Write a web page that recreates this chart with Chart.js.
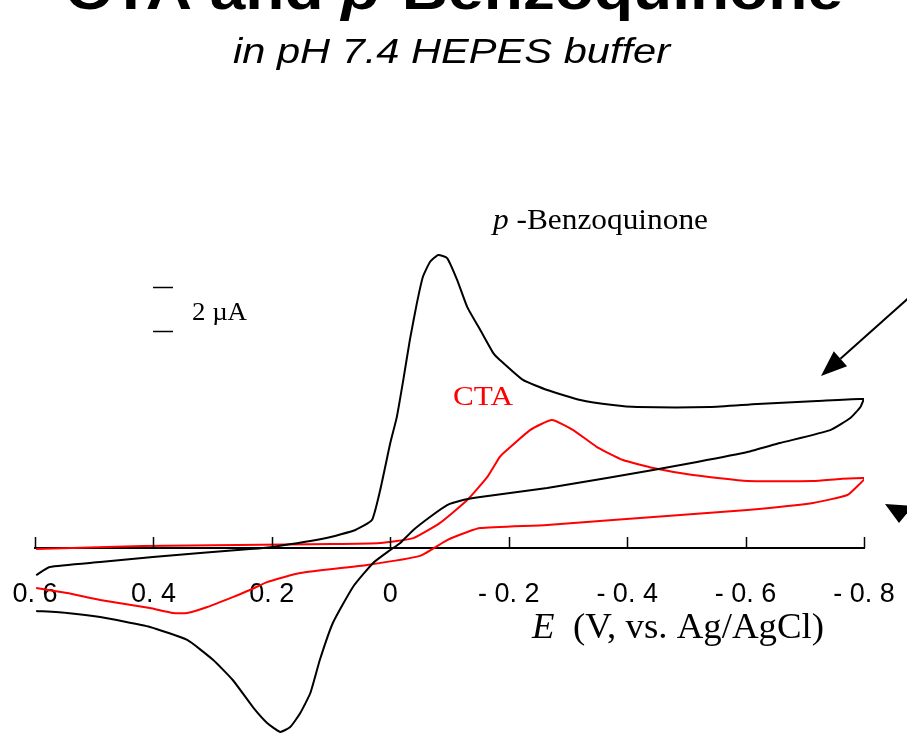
<!DOCTYPE html>
<html>
<head>
<meta charset="utf-8">
<script src="https://cdn.jsdelivr.net/npm/chart.js@4.4.1/dist/chart.umd.min.js"></script>
<style>
  html, body { margin: 0; padding: 0; background: #fff; overflow: hidden; }
  #wrap { position: absolute; left: 0; top: 0; width: 907px; height: 740px; }
</style>
</head>
<body>
<div id="wrap"><canvas id="cv"></canvas></div>
<script>
// potential (V vs Ag/AgCl) and current (uA, cathodic up)
const pbqPotential = [0.598, 0.575, 0.490, 0.401, 0.321, 0.237, 0.198, 0.108, 0.059, 0.031,
  0.017, 0.000, -0.011, -0.022, -0.033, -0.045, -0.055, -0.067, -0.081, -0.096,
  -0.113, -0.130, -0.152, -0.174, -0.185, -0.224, -0.265, -0.321, -0.376, -0.417,
  -0.540, -0.620, -0.721, -0.799,
  -0.794, -0.777, -0.743, -0.658, -0.603, -0.518, -0.444, -0.366, -0.265, -0.152,
  -0.123, -0.096, -0.067, -0.039, -0.017, 0.000, 0.029, 0.063, 0.097, 0.119,
  0.135, 0.152, 0.169, 0.186, 0.208, 0.232, 0.266, 0.299, 0.343, 0.406,
  0.490, 0.546, 0.598];
const pbqCurrent = [-1.23, -0.86, -0.64, -0.41, -0.23, -0.05, 0.05, 0.45, 0.82, 1.27,
  2.64, 4.77, 5.95, 7.64, 9.45, 11.14, 12.32, 13.0, 13.32, 13.18,
  12.18, 10.95, 9.91, 8.86, 8.55, 7.64, 7.18, 6.73, 6.5, 6.41,
  6.41, 6.55, 6.68, 6.77,
  6.41, 5.91, 5.36, 4.77, 4.36, 3.91, 3.55, 3.18, 2.73, 2.32,
  2.18, 1.95, 1.41, 0.82, 0.23, -0.09, -0.68, -1.77, -3.41, -5.09,
  -6.59, -7.5, -8.14, -8.36, -7.95, -7.23, -6.0, -5.09, -4.18, -3.59,
  -3.14, -2.95, -2.86];

const ctaPotential = [0.598, 0.418, 0.097, 0.017, -0.039, -0.084, -0.130, -0.164, -0.185, -0.197,
  -0.236, -0.273, -0.309, -0.349, -0.393, -0.444, -0.511, -0.603, -0.714, -0.760, -0.802,
  -0.794, -0.772, -0.714, -0.603, -0.490, -0.376, -0.265, -0.152, -0.130, -0.096,
  -0.050, 0.039, 0.152, 0.208, 0.237, 0.266, 0.309, 0.343, 0.367, 0.406,
  0.490, 0.546, 0.598];
const ctaCurrent = [-0.05, 0.09, 0.18, 0.23, 0.45, 1.14, 2.18, 3.23, 4.14, 4.45,
  5.36, 5.82, 5.36, 4.59, 4.0, 3.64, 3.32, 3.05, 3.05, 3.14, 3.18,
  2.95, 2.41, 2.05, 1.73, 1.5, 1.27, 1.05, 0.91, 0.73, 0.36,
  -0.36, -0.77, -1.14, -1.55, -1.91, -2.23, -2.68, -2.95, -2.95, -2.73,
  -2.36, -2.05, -1.82];

const xTicks = [0.6, 0.4, 0.2, 0, -0.2, -0.4, -0.6, -0.8];
const tickLabels = ['0. 6', '0. 4', '0. 2', '0', '- 0. 2', '- 0. 4', '- 0. 6', '- 0. 8'];
const scaleBar = [11.86, 9.86]; // 2 uA bar

const SANS = '"Liberation Sans", Arial, sans-serif';
const SERIF = '"Liberation Serif", "Times New Roman", serif';

function zip(xs, ys) {
  return xs.map((x, i) => ({ x: x, y: ys[i] }));
}

// draws text pieces stretched to a given width (the slide was stretched sideways)
function fitText(ctx, parts, left, base, width, color) {
  let natural = 0;
  parts.forEach(p => { ctx.font = p.font; natural += ctx.measureText(p.text).width; });
  const k = width / natural;
  ctx.save();
  ctx.translate(left, base);
  ctx.scale(k, 1);
  ctx.fillStyle = color || '#000';
  ctx.textBaseline = 'alphabetic';
  ctx.textAlign = 'left';
  let x = 0;
  parts.forEach(p => {
    ctx.font = p.font;
    ctx.fillText(p.text, x, 0);
    x += ctx.measureText(p.text).width;
  });
  ctx.restore();
}

function arrow(ctx, x1, y1, x2, y2, head, half) {
  const dx = x2 - x1, dy = y2 - y1;
  const len = Math.hypot(dx, dy);
  const ux = dx / len, uy = dy / len;
  const bx = x2 - ux * head, by = y2 - uy * head;
  ctx.beginPath();
  ctx.moveTo(x1, y1);
  ctx.lineTo(bx, by);
  ctx.stroke();
  ctx.beginPath();
  ctx.moveTo(x2, y2);
  ctx.lineTo(bx - uy * half, by + ux * half);
  ctx.lineTo(bx + uy * half, by - ux * half);
  ctx.closePath();
  ctx.fill();
}

const decor = {
  id: 'decor',
  afterDraw(chart) {
    const ctx = chart.ctx;
    const xs = chart.scales.x, ys = chart.scales.y;
    const axisY = ys.getPixelForValue(0);

    // tick marks pointing up
    ctx.save();
    ctx.strokeStyle = '#000';
    ctx.lineWidth = 1.5;
    xTicks.forEach(v => {
      const px = Math.round(xs.getPixelForValue(v)) + 0.5;
      ctx.beginPath();
      ctx.moveTo(px, axisY);
      ctx.lineTo(px, axisY - 11);
      ctx.stroke();
    });

    // 2 uA scale bar
    const bx = 153;
    scaleBar.forEach(v => {
      const py = Math.round(ys.getPixelForValue(v)) + 0.5;
      ctx.beginPath();
      ctx.moveTo(bx, py);
      ctx.lineTo(bx + 20, py);
      ctx.stroke();
    });

    // arrows
    ctx.fillStyle = '#000';
    ctx.lineWidth = 2;
    arrow(ctx, 912, 295, 821, 376, 26, 10);
    ctx.beginPath();
    ctx.moveTo(885, 504);
    ctx.lineTo(913, 506);
    ctx.lineTo(899, 523);
    ctx.closePath();
    ctx.fill();
    ctx.restore();

    fitText(ctx, [
      { text: 'CTA and ', font: 'bold 56px ' + SANS },
      { text: 'p', font: 'italic bold 56px ' + SANS },
      { text: '-Benzoquinone', font: 'bold 56px ' + SANS }
    ], 65, 9, 778);
    fitText(ctx, [{ text: 'in pH 7.4 HEPES buffer', font: 'italic 35px ' + SANS }], 233, 63, 437);
    fitText(ctx, [
      { text: 'p', font: 'italic 29px ' + SERIF },
      { text: ' -Benzoquinone', font: '29px ' + SERIF }
    ], 493, 229, 215);
    fitText(ctx, [{ text: 'CTA', font: '27px ' + SERIF }], 453, 405, 60, '#ff0000');
    fitText(ctx, [{ text: '2 \u00b5A', font: '26px ' + SERIF }], 192, 320, 55);
    fitText(ctx, [
      { text: 'E', font: 'italic 35px ' + SERIF },
      { text: '  (V, vs. Ag/AgCl)', font: '35px ' + SERIF }
    ], 532, 638, 292);
  }
};

new Chart(document.getElementById('cv'), {
  type: 'scatter',
  data: {
    datasets: [
      {
        label: 'p-Benzoquinone',
        data: zip(pbqPotential, pbqCurrent),
        showLine: true,
        borderColor: '#000000',
        borderWidth: 2,
        pointRadius: 0,
        tension: 0.15
      },
      {
        label: 'CTA',
        data: zip(ctaPotential, ctaCurrent),
        showLine: true,
        borderColor: '#ff0000',
        borderWidth: 2,
        pointRadius: 0,
        tension: 0.15
      }
    ]
  },
  options: {
    responsive: true,
    maintainAspectRatio: false,
    animation: false,
    layout: { autoPadding: false, padding: { left: 35, right: 43, top: 97, bottom: 5 } },
    plugins: { legend: { display: false }, tooltip: { enabled: false } },
    scales: {
      x: {
        type: 'linear',
        reverse: true,
        min: -0.8,
        max: 0.6,
        position: { y: 0 },
        afterBuildTicks: scale => { scale.ticks = xTicks.map(v => ({ value: v })); },
        afterFit: scale => {
          scale.paddingLeft = 0;
          scale.paddingRight = 0;
          scale.paddingTop = 0;
          scale.paddingBottom = 0;
        },
        grid: { display: true, drawOnChartArea: false, drawTicks: false },
        border: { display: true, color: '#000', width: 2 },
        ticks: {
          autoSkip: false,
          maxRotation: 0,
          padding: 30,
          color: '#000',
          font: { family: SANS, size: 27 },
          callback: (v, i) => tickLabels[i]
        }
      },
      y: {
        display: false,
        min: -8.5,
        max: 20.5
      }
    }
  },
  plugins: [decor]
});
</script>
</body>
</html>
